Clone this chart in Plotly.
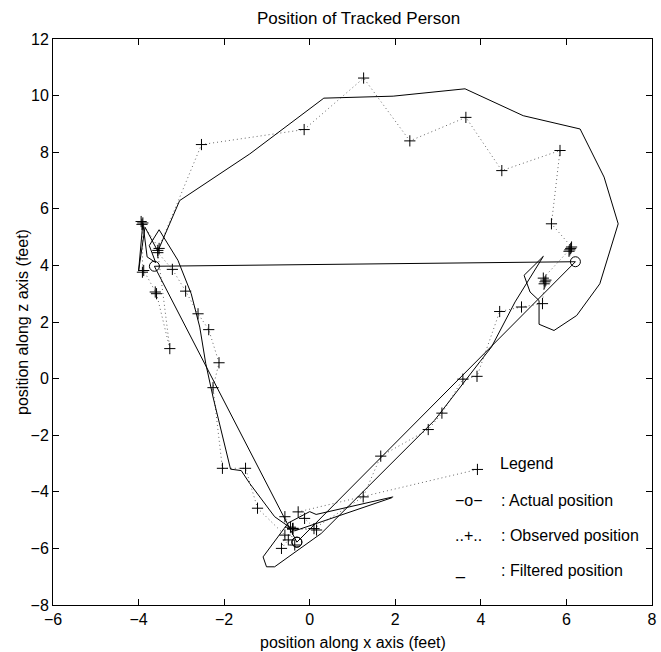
import plotly.graph_objects as go

# Observed position (dotted line with + markers)
obs_x = [3.92, -0.27, -0.12, 0.16, -0.39, -0.45, -0.40, 0.10, 1.25, 1.66, 2.77, 3.09, 3.58, 3.91,
         4.44, 4.95, 5.44, 5.48, 5.52, 5.50, 5.46, 6.06, 6.10, 6.08, 6.12, 5.65, 5.85, 4.49, 3.65,
         2.34, 1.26, -0.13, -2.53, -3.55, -3.52, -3.94, -3.92, -3.90, -3.91, -3.88, -3.61, -3.58,
         -3.27, -3.55, -3.21, -2.90, -2.61, -2.36, -2.12, -2.26, -2.04, -1.50, -1.22, -0.58,
         -0.66, -0.50, -0.35, -0.58, -0.40]
obs_y = [-3.21, -4.71, -4.94, -5.35, -5.29, -5.25, -5.32, -5.30, -4.18, -2.74, -1.80, -1.22, -0.02, 0.08,
         2.37, 2.53, 2.65, 3.35, 3.48, 3.42, 3.55, 4.50, 4.60, 4.55, 4.65, 5.47, 8.06, 7.35, 9.23,
         8.40, 10.62, 8.80, 8.27, 4.53, 4.60, 5.55, 5.45, 5.50, 3.76, 3.82, 3.06, 3.00,
         1.06, 4.45, 3.86, 3.09, 2.29, 1.73, 0.56, -0.32, -3.17, -3.17, -4.58, -5.53,
         -6.00, -5.70, -5.88, -4.88, -5.30]

# Filtered position (solid line)
filt_x = [1.95, 0.15, 0.00, -0.20, -0.50, -0.60, -1.09, -1.01, -0.82, 0.27, 2.92, 3.98, 4.25, 4.80,
          5.46, 5.01, 5.15, 5.36, 5.36, 5.71, 6.24, 6.78, 7.21, 6.88, 6.32, 4.99, 3.63, 1.95,
          0.33, -1.40, -3.04, -3.55, -3.85, -4.00, -3.90, -3.80, -3.60, -3.75, -3.52, -3.08,
          -2.77, -2.57, -2.43, -2.26, -2.05, -1.85, -1.60, -1.40, -0.82, -0.50, -0.35, 1.92]
filt_y = [-4.18, -4.80, -4.70, -4.85, -5.10, -5.30, -6.30, -6.65, -6.65, -5.47, -1.47, 0.60, 1.12, 2.71,
          4.32, 3.65, 3.06, 2.76, 1.92, 1.70, 2.23, 3.35, 5.47, 7.12, 8.82, 9.29, 10.24, 9.98,
          9.91, 7.94, 6.29, 4.50, 5.35, 3.80, 5.50, 4.30, 4.10, 4.70, 5.26, 4.18,
          3.00, 1.82, 0.53, -0.65, -2.00, -3.20, -3.25, -3.71, -4.88, -5.20, -5.38, -4.21]

# Actual position (solid line with o markers)
act_x = [-0.30, 6.21, -3.63, -0.30]
act_y = [-5.78, 4.13, 3.97, -5.78]

x_ticks = [-6, -4, -2, 0, 2, 4, 6, 8]
y_ticks = [-8, -6, -4, -2, 0, 2, 4, 6, 8, 10, 12]

legend_labels = ["Legend", ": Actual position", ": Observed position", ": Filtered position"]
legend_symbols = ["−o−", "..+..", "_"]

FONT = "Liberation Sans, Arial, Helvetica, sans-serif"

fig = go.Figure()
fig.add_trace(go.Scatter(
    x=obs_x, y=obs_y, mode="lines+markers",
    line=dict(color="#666666", width=1, dash="1px,3px"),
    marker=dict(symbol="cross-thin-open", size=8, color="black",
                line=dict(color="black", width=1)),
    showlegend=False, hoverinfo="skip"))
fig.add_trace(go.Scatter(
    x=filt_x, y=filt_y, mode="lines",
    line=dict(color="black", width=1),
    showlegend=False, hoverinfo="skip"))
fig.add_trace(go.Scatter(
    x=act_x, y=act_y, mode="lines+markers",
    line=dict(color="black", width=1),
    marker=dict(symbol="circle-open", size=10, color="black",
                line=dict(color="black", width=1)),
    showlegend=False, hoverinfo="skip"))

plot_top, plot_h = 39, 566

ann = []
# in-plot legend texts
ann.append(dict(x=4.40, y=-2.99, xref="x", yref="y", text=legend_labels[0],
                xanchor="left", yanchor="middle", showarrow=False))
rows_y = [-4.29, -5.53, -6.77]
for sym, lab, yy in zip(legend_symbols, legend_labels[1:], rows_y):
    ann.append(dict(x=3.35, y=yy, xref="x", yref="y", text=sym,
                    xanchor="left", yanchor="middle", showarrow=False))
    ann.append(dict(x=4.42, y=yy, xref="x", yref="y", text=lab,
                    xanchor="left", yanchor="middle", showarrow=False))
# title and axis titles
ann.append(dict(x=0.51, y=1 + (plot_top - 19) / plot_h, xref="paper", yref="paper",
                text="Position of Tracked Person",
                xanchor="center", yanchor="middle", showarrow=False,
                font=dict(size=17)))
ann.append(dict(x=0.5, y=-0.0654, xref="paper", yref="paper",
                text="position along x axis (feet)",
                xanchor="center", yanchor="middle", showarrow=False))
ann.append(dict(x=-0.0518, y=0.5, xref="paper", yref="paper",
                text="position along z axis (feet)", textangle=-90,
                xanchor="center", yanchor="middle", showarrow=False))

axis_common = dict(showgrid=False, zeroline=False, showline=True, linecolor="black",
                   linewidth=1, mirror="ticks", ticks="inside", ticklen=6,
                   tickcolor="black", tickwidth=1, automargin=False,
                   tickfont=dict(family=FONT, size=16, color="black"))

fig.update_layout(
    width=661, height=652,
    margin=dict(l=53, r=9, t=39, b=47),
    paper_bgcolor="white", plot_bgcolor="white",
    font=dict(family=FONT, size=16, color="black"),
    xaxis=dict(range=[-6, 8], tickvals=x_ticks, **axis_common),
    yaxis=dict(range=[-8, 12], tickvals=y_ticks, **axis_common),
    annotations=ann,
    showlegend=False,
)

fig.write_html("out.html",
               config={"displayModeBar": False, "staticPlot": True},
               post_script="document.body.style.margin='0px'; document.body.style.overflow='hidden';")
